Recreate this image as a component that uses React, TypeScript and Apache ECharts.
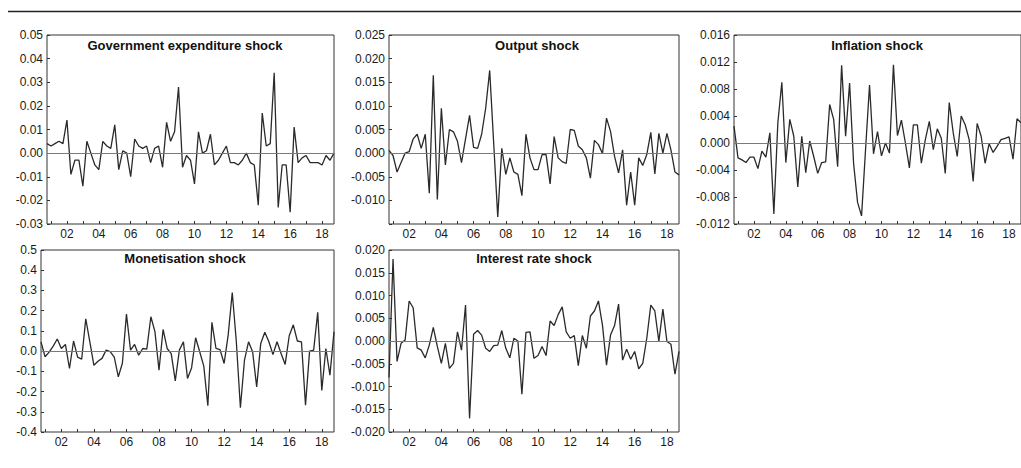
import React, { useEffect, useRef } from "react";
import * as echarts from "echarts";

// Quarterly observations 2000Q4 .. 2018Q4
const START_YEAR = 2000;
const START_QUARTER = 4;
const N_OBS = 73;
const QUARTERS: string[] = [];
for (let k = 0; k < N_OBS; k++) {
  const q = START_QUARTER - 1 + k;
  QUARTERS.push(`${START_YEAR + Math.floor(q / 4)}Q${(q % 4) + 1}`);
}

const TITLES = [
  "Government expenditure shock",
  "Output shock",
  "Inflation shock",
  "Monetisation shock",
  "Interest rate shock",
];

const GOV = [
  0.004, 0.003, 0.004, 0.005, 0.004, 0.014, -0.009, -0.003, -0.003, -0.014,
  0.005, 0.0, -0.005, -0.007, 0.005, 0.003, 0.002, 0.012, -0.007, 0.001,
  0.0, -0.01, 0.006, 0.003, 0.002, 0.003, -0.004, 0.002, 0.003, -0.006,
  0.013, 0.005, 0.009, 0.028, -0.006, -0.001, -0.003, -0.013, 0.009, 0.0,
  0.001, 0.008, -0.005, -0.003, 0.0, 0.003, -0.004, -0.004, -0.005, -0.003,
  0.0, -0.004, -0.005, -0.022, 0.017, 0.003, 0.004, 0.034, -0.023, -0.005,
  -0.005, -0.025, 0.011, -0.004, -0.002, -0.001, -0.004, -0.004, -0.004, -0.005,
  -0.001, -0.003, 0.0,
];

const OUTPUT = [
  0.0006, -0.0005, -0.004, -0.002, 0.0, 0.0003, 0.003, 0.004, 0.001, 0.004,
  -0.0085, 0.0165, -0.0098, 0.0095, -0.0025, 0.005, 0.0045, 0.0025, -0.002, 0.003,
  0.008, 0.0012, 0.001, 0.004, 0.0095, 0.0175, 0.002, -0.0135, 0.001, -0.0045,
  -0.001, -0.004, -0.0045, -0.009, 0.004, -0.001, -0.0035, -0.0035, -0.0003, -0.0003,
  -0.0065, 0.0035, -0.001, -0.0018, -0.0022, 0.005, 0.0048, 0.0015, 0.0007, -0.001,
  -0.0053, 0.0027, 0.0018, -0.0001, 0.0074, 0.0046, -0.0007, -0.0042, 0.0007, -0.011,
  -0.004, -0.011, -0.001, -0.0026, -0.0003, 0.0044, -0.0044, 0.0042, 0.0, 0.0042,
  0.0007, -0.004, -0.0046,
];

const INFLATION = [
  0.0025, -0.0022, -0.0025, -0.0029, -0.0021, -0.0021, -0.0038, -0.0012, -0.0021, 0.0015,
  -0.0105, 0.003, 0.009, -0.0029, 0.0035, 0.001, -0.0065, 0.001, -0.0044, 0.0003,
  -0.002, -0.0045, -0.0029, -0.0028, 0.0057, 0.0035, -0.0035, 0.0115, 0.001, 0.0089,
  -0.003, -0.0088, -0.0108, -0.001, 0.0086, -0.0016, 0.0017, -0.0019, 0.0, -0.0015,
  0.0116, 0.0011, 0.0034, 0.0, -0.0037, 0.0027, 0.0027, -0.003, 0.0005, 0.0032,
  -0.001, 0.0021, 0.0007, -0.0045, 0.006, 0.0015, -0.002, 0.004, 0.0027, 0.0005,
  -0.0057, 0.0029, 0.001, -0.003, -0.0001, -0.0014, -0.0005, 0.0005, 0.0007, 0.0009,
  -0.0024, 0.0036, 0.003,
];

const MONETISATION = [
  0.046, -0.028, -0.005, 0.025, 0.06, 0.013, 0.033, -0.086, 0.05, -0.03,
  -0.04, 0.16, 0.046, -0.07, -0.05, -0.036, 0.005, -0.003, -0.03, -0.127,
  -0.06, 0.183, 0.005, 0.033, -0.02, 0.013, 0.01, 0.17, 0.096, -0.094,
  0.107, 0.013, -0.012, -0.147, 0.005, 0.046, -0.135, -0.083, 0.066, -0.003,
  -0.074, -0.27, 0.142, 0.013, 0.007, -0.061, 0.08, 0.29, 0.046, -0.28,
  -0.045, 0.046, -0.003, -0.177, 0.038, 0.093, 0.046, -0.017, 0.046, -0.012,
  -0.066, 0.076, 0.13, 0.05, 0.046, -0.268, 0.0, 0.005, 0.192, -0.195,
  0.013, -0.119, 0.096,
];

const INTEREST = [
  -0.008, 0.018, -0.0045, -0.0005, 0.0002, 0.0088, 0.0073, -0.0015, -0.002, -0.0037,
  -0.0009, 0.003, -0.0012, -0.0049, -0.0005, -0.006, -0.0049, 0.002, -0.002, 0.0079,
  -0.017, 0.0015, 0.0023, 0.0013, -0.0016, -0.0023, -0.001, -0.0009, 0.0023, -0.0016,
  -0.0037, 0.0006, 0.0, -0.0117, 0.0019, 0.002, -0.0038, -0.0032, -0.0012, -0.0032,
  0.0044, 0.0034, 0.0058, 0.0075, 0.002, 0.0006, 0.0012, -0.0054, 0.0012, -0.0016,
  0.0055, 0.0066, 0.0088, 0.0035, -0.0053, 0.0013, 0.0034, 0.0081, -0.0042, -0.0018,
  -0.004, -0.0023, -0.0061, -0.0049, 0.0006, 0.0079, 0.0066, -0.0001, 0.007, -0.0001,
  -0.0007, -0.0073, -0.0023,
];

const SERIES = [GOV, OUTPUT, INFLATION, MONETISATION, INTEREST];

// y-axis ranges
const Y_MIN = [-0.03, -0.015, -0.012, -0.4, -0.02];
const Y_MAX = [0.05, 0.025, 0.016, 0.5, 0.02];
const Y_STEP = [0.01, 0.005, 0.004, 0.1, 0.005];
const Y_DECIMALS = [2, 3, 3, 1, 3];
const Y_HIDE_MIN = [false, true, false, false, false];

// layout (pixels)
const GRIDS = [
  { left: 47, top: 35, width: 287, height: 189 },
  { left: 389, top: 35, width: 290, height: 189 },
  { left: 734, top: 35, width: 289, height: 189 },
  { left: 41, top: 250, width: 293, height: 182 },
  { left: 389, top: 250, width: 290, height: 182 },
];
const TITLE_POS = [
  { x: 185, y: 39 },
  { x: 537, y: 39 },
  { x: 877, y: 39 },
  { x: 185, y: 252 },
  { x: 534, y: 252 },
];

const FONT = "'Liberation Sans', Arial, Helvetica, sans-serif";
const INK = "#1a1a1a";

export default function App() {
  const ref = useRef<HTMLDivElement>(null);

  useEffect(() => {
    if (!ref.current) return;
    const chart = echarts.init(ref.current, null, { renderer: "svg" });

    const isQ1 = (_i: number, v: string) => v.endsWith("Q1");
    const isEvenQ1 = (_i: number, v: string) =>
      v.endsWith("Q1") && parseInt(v.slice(0, 4), 10) % 2 === 0;

    const option: any = {
      animation: false,
      backgroundColor: "#fff",
      title: TITLES.map((t, i) => ({
        text: t,
        left: TITLE_POS[i].x,
        top: TITLE_POS[i].y,
        textAlign: "center",
        padding: 0,
        textStyle: { fontFamily: FONT, fontSize: 13, fontWeight: "bold", color: "#111" },
      })),
      grid: GRIDS.map((g) => ({
        ...g,
        show: true,
        borderColor: "#333",
        borderWidth: 1,
        backgroundColor: "transparent",
        containLabel: false,
      })),
      xAxis: GRIDS.map((_, i) => ({
        type: "category",
        gridIndex: i,
        position: "bottom",
        data: QUARTERS,
        boundaryGap: false,
        axisLine: { show: false, onZero: false },
        axisTick: { show: true, inside: true, length: 3, interval: isQ1, lineStyle: { color: "#333" } },
        axisLabel: {
          interval: isEvenQ1,
          formatter: (v: string) => v.slice(2, 4),
          fontFamily: FONT,
          fontSize: 12,
          color: INK,
          margin: 4,
        },
        splitLine: { show: false },
      })),
      yAxis: GRIDS.map((_, i) => ({
        type: "value",
        gridIndex: i,
        position: "left",
        min: Y_MIN[i],
        max: Y_MAX[i],
        interval: Y_STEP[i],
        axisLine: { show: false, onZero: false },
        axisTick: { show: true, inside: true, length: 3, lineStyle: { color: "#333" } },
        axisLabel: {
          fontFamily: FONT,
          fontSize: 12,
          color: INK,
          margin: 4,
          formatter: (v: number) => {
            if (Y_HIDE_MIN[i] && Math.abs(v - Y_MIN[i]) < 1e-9) return "";
            const val = Math.abs(v) < 1e-12 ? 0 : v;
            return val.toFixed(Y_DECIMALS[i]);
          },
        },
        splitLine: { show: false },
      })),
      series: SERIES.map((d, i) => ({
        type: "line",
        xAxisIndex: i,
        yAxisIndex: i,
        data: d,
        symbol: "none",
        lineStyle: { color: "#2a2a2a", width: 1.3 },
        markLine: {
          silent: true,
          symbol: "none",
          label: { show: false },
          lineStyle: { color: "#7a7a7a", width: 1, type: "solid" },
          data: [{ yAxis: 0 }],
        },
      })),
      graphic: [
        {
          type: "line",
          shape: { x1: 8, y1: 11.5, x2: 1021, y2: 11.5 },
          style: { stroke: "#222", lineWidth: 1.5 },
        },
      ],
    };

    chart.setOption(option);
    return () => chart.dispose();
  }, []);

  return (
    <div
      ref={ref}
      style={{ position: "absolute", left: 0, top: 0, width: 1021, height: 468, background: "#fff" }}
    />
  );
}
